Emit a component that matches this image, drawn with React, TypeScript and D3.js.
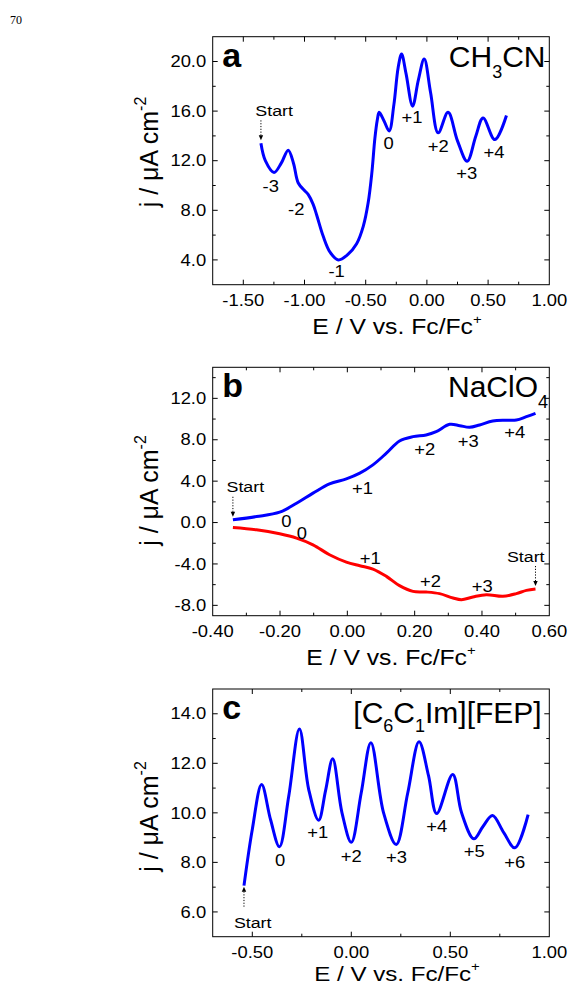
import React from "react";
import * as d3 from "d3";

// ---- Panel a: CH3CN ----
const aE = [-1.356, -1.32, -1.249, -1.19, -1.133, -1.09, -1.051, -1.0, -0.969, -0.93, -0.9, -0.847, -0.79, -0.724, -0.65, -0.574, -0.52, -0.48, -0.45, -0.425, -0.405, -0.39, -0.35, -0.308, -0.27, -0.235, -0.207, -0.17, -0.117, -0.07, -0.022, 0.03, 0.092, 0.173, 0.25, 0.329, 0.4, 0.459, 0.555, 0.65];
const aJ = [13.4, 12.0, 11.05, 11.8, 12.85, 11.8, 10.2, 9.6, 9.26, 8.5, 7.6, 5.9, 4.6, 4.0, 4.4, 5.3, 6.7, 8.6, 11.0, 13.8, 15.3, 15.9, 15.2, 14.4, 16.5, 19.5, 20.6, 19.0, 16.4, 18.5, 20.2, 17.5, 14.25, 15.9, 13.6, 11.95, 14.0, 15.45, 13.7, 15.65];
const aXTicks = [-1.5, -1.0, -0.5, 0.0, 0.5, 1.0];
const aYTicks = [4, 8, 12, 16, 20];
const aLabels = [
  { t: "-3", E: -1.2755, j: 9.48 },
  { t: "-2", E: -1.068, j: 7.64 },
  { t: "-1", E: -0.738, j: 2.65 },
  { t: "0", E: -0.313, j: 12.96 },
  { t: "+1", E: -0.121, j: 15.06 },
  { t: "+2", E: 0.092, j: 12.76 },
  { t: "+3", E: 0.326, j: 10.55 },
  { t: "+4", E: 0.548, j: 12.23 },
];

// ---- Panel b: NaClO4 ----
const bOxE = [-0.34, -0.27, -0.201, -0.151, -0.102, -0.053, -0.003, 0.037, 0.076, 0.116, 0.155, 0.195, 0.234, 0.264, 0.304, 0.334, 0.363, 0.393, 0.432, 0.472, 0.502, 0.532, 0.559];
const bOxJ = [0.27, 0.58, 1.0, 1.87, 2.84, 3.74, 4.22, 4.77, 5.57, 6.7, 7.88, 8.3, 8.46, 8.78, 9.49, 9.36, 9.2, 9.43, 9.81, 9.88, 9.9, 10.23, 10.55];
const bRedE = [-0.34, -0.27, -0.201, -0.151, -0.102, -0.053, -0.003, 0.037, 0.076, 0.116, 0.155, 0.195, 0.234, 0.274, 0.314, 0.339, 0.373, 0.413, 0.462, 0.502, 0.532, 0.559];
const bRedJ = [-0.48, -0.7, -1.09, -1.5, -2.15, -3.11, -3.82, -4.17, -4.49, -5.2, -6.1, -6.65, -6.71, -6.87, -7.29, -7.45, -7.19, -6.97, -7.13, -6.87, -6.55, -6.42];
const bXTicks = [-0.4, -0.2, 0.0, 0.2, 0.4, 0.6];
const bYTicks = [-8, -4, 0, 4, 8, 12];
const bLabels = [
  { t: "0", E: -0.181, j: -0.38 },
  { t: "0", E: -0.135, j: -1.5 },
  { t: "+1", E: 0.045, j: 2.77 },
  { t: "+1", E: 0.068, j: -3.98 },
  { t: "+2", E: 0.23, j: 6.53 },
  { t: "+2", E: 0.247, j: -6.17 },
  { t: "+3", E: 0.359, j: 7.33 },
  { t: "+3", E: 0.401, j: -6.65 },
  { t: "+4", E: 0.497, j: 8.24 },
];

// ---- Panel c: [C6C1Im][FEP] ----
const cE = [-0.542, -0.5, -0.453, -0.408, -0.363, -0.316, -0.262, -0.215, -0.165, -0.13, -0.094, -0.047, 0.0, 0.05, 0.099, 0.163, 0.227, 0.285, 0.342, 0.39, 0.431, 0.512, 0.557, 0.619, 0.665, 0.713, 0.77, 0.826, 0.893];
const cJ = [7.06, 9.33, 11.14, 9.73, 8.63, 10.67, 13.39, 10.94, 9.7, 10.9, 12.18, 10.0, 8.81, 10.8, 12.83, 10.0, 8.72, 10.8, 12.87, 11.5, 9.97, 11.55, 10.0, 8.95, 9.45, 9.89, 9.2, 8.59, 9.93];
const cXTicks = [-0.5, 0.0, 0.5, 1.0];
const cYTicks = [6, 8, 10, 12, 14];
const cLabels = [
  { t: "0", E: -0.36, j: 7.87 },
  { t: "+1", E: -0.17, j: 8.99 },
  { t: "+2", E: 0.0, j: 8.04 },
  { t: "+3", E: 0.228, j: 7.98 },
  { t: "+4", E: 0.4315, j: 9.26 },
  { t: "+5", E: 0.621, j: 8.25 },
  { t: "+6", E: 0.826, j: 7.78 },
];

const FONT = "'Liberation Sans', Arial, Helvetica, sans-serif";
const SX = 1.15;
const BLUE = "#0000ff";
const RED = "#ff0000";
const LEFT = 212.7;
const RIGHT = 549.3;

function zip(xs: number[], ys: number[]): [number, number][] {
  return xs.map((x, i) => [x, ys[i]]);
}

function T(props: {
  x: number;
  y: number;
  size: number;
  anchor?: string;
  weight?: string;
  sx?: number;
  children: React.ReactNode;
}) {
  const { x, y, size, anchor = "middle", weight = "normal", sx = SX, children } = props;
  return (
    <text
      transform={`translate(${x},${y}) scale(${sx},1)`}
      fontSize={size}
      fontFamily={FONT}
      fontWeight={weight}
      textAnchor={anchor}
      fill="#000"
    >
      {children}
    </text>
  );
}

type Series = { E: number[]; J: number[]; color: string };
type Lab = { t: string; E: number; j: number };
type Arrow = { E: number; j: number; dir: "down" | "up"; label: { E: number; j: number } };

function StartArrow({ x, tip, dir }: { x: number; tip: number; dir: "down" | "up" }) {
  const len = 20;
  const s = dir === "down" ? -1 : 1;
  const tail = tip + s * len;
  const base = tip + s * 5;
  return (
    <g>
      <line x1={x} y1={tail} x2={x} y2={base} stroke="#000" strokeWidth={1} strokeDasharray="1.2,1.6" />
      <path d={`M${x},${tip} L${x - 2.2},${base} L${x + 2.2},${base} Z`} fill="#000" />
    </g>
  );
}

function Panel(props: {
  top: number;
  bottom: number;
  xDomain: [number, number];
  yDomain: [number, number];
  xTicks: number[];
  yTicks: number[];
  xMinorStep: number;
  yMinorStep: number;
  series: Series[];
  labels: Lab[];
  arrows: Arrow[];
  letter: string;
  title: React.ReactNode;
  xTitleX: number;
  xTitleDy?: number;
  xTitleSize?: number;
  yTitleY: number;
}) {
  const { top, bottom, xDomain, yDomain, xTicks, yTicks, xMinorStep, yMinorStep } = props;
  const x = d3.scaleLinear().domain(xDomain).range([LEFT, RIGHT]);
  const y = d3.scaleLinear().domain(yDomain).range([bottom, top]);
  const line = d3
    .line<[number, number]>()
    .x((d) => x(d[0]))
    .y((d) => y(d[1]))
    .curve(d3.curveCatmullRom.alpha(0.5));

  const eps = 1e-6;
  const xMinor = d3
    .range(xTicks[0] - xMinorStep, xDomain[1] + eps, xMinorStep)
    .filter((v) => v > xDomain[0] + eps && v < xDomain[1] - eps);
  const yMinor = d3
    .range(yTicks[0] - yMinorStep, yDomain[1] + eps, yMinorStep)
    .filter((v) => v > yDomain[0] + eps && v < yDomain[1] - eps);
  const isMajor = (arr: number[], v: number) => arr.some((m) => Math.abs(m - v) < 1e-6);

  const MAJ = 5;
  const MIN = 3;

  return (
    <g>
      {/* curves */}
      {props.series.map((s, i) => (
        <path key={i} d={line(zip(s.E, s.J)) || ""} fill="none" stroke={s.color} strokeWidth={3} />
      ))}

      {/* frame */}
      <rect x={LEFT} y={top} width={RIGHT - LEFT} height={bottom - top} fill="none" stroke="#000" strokeWidth={1} />

      {/* x ticks, bottom and top, pointing inward */}
      {xMinor.map((v, i) => {
        const len = isMajor(xTicks, v) ? MAJ : MIN;
        return (
          <g key={`xt${i}`} stroke="#000" strokeWidth={1}>
            <line x1={x(v)} x2={x(v)} y1={bottom} y2={bottom - len} />
            <line x1={x(v)} x2={x(v)} y1={top} y2={top + len} />
          </g>
        );
      })}
      {/* y ticks, left and right, pointing inward */}
      {yMinor.map((v, i) => {
        const len = isMajor(yTicks, v) ? MAJ : MIN;
        return (
          <g key={`yt${i}`} stroke="#000" strokeWidth={1}>
            <line x1={LEFT} x2={LEFT + len} y1={y(v)} y2={y(v)} />
            <line x1={RIGHT} x2={RIGHT - len} y1={y(v)} y2={y(v)} />
          </g>
        );
      })}

      {/* tick labels */}
      {xTicks.map((v, i) => (
        <T key={`xl${i}`} x={x(v)} y={bottom + 21} size={16}>
          {v.toFixed(2)}
        </T>
      ))}
      {yTicks.map((v, i) => (
        <T key={`yl${i}`} x={LEFT - 6.5} y={y(v) + 5.7} size={16} anchor="end">
          {v.toFixed(1)}
        </T>
      ))}

      {/* peak labels */}
      {props.labels.map((l, i) => (
        <T key={`pl${i}`} x={x(l.E)} y={y(l.j) + 0.5} size={16}>
          {l.t}
        </T>
      ))}

      {/* start markers */}
      {props.arrows.map((a, i) => (
        <g key={`ar${i}`}>
          <StartArrow x={x(a.E)} tip={y(a.j) + (a.dir === "down" ? -3 : 1)} dir={a.dir} />
          <T x={x(a.label.E)} y={y(a.label.j)} size={15.5}>
            Start
          </T>
        </g>
      ))}

      {/* panel letter */}
      <text x={LEFT + 9.5} y={top + 30} fontSize={34} fontWeight="bold" fontFamily={FONT}>
        {props.letter}
      </text>
      {props.title}

      {/* axis titles */}
      <T x={props.xTitleX} y={bottom + 49.5 + (props.xTitleDy || 0)} size={props.xTitleSize || 21.5}>
        E / V vs. Fc/Fc
        <tspan dy={-10} fontSize={13}>
          +
        </tspan>
      </T>
      <text
        transform={`translate(158,${props.yTitleY}) rotate(-90)`}
        fontSize={25}
        fontFamily={FONT}
        textAnchor="middle"
      >
        j / μA cm
        <tspan dy={-12} fontSize={16}>
          -2
        </tspan>
      </text>
    </g>
  );
}

export default function App() {
  return (
    <svg
      width={569}
      height={986}
      viewBox="0 0 569 986"
      style={{ position: "absolute", left: 0, top: 0, background: "#fff" }}
    >
      <rect width={569} height={986} fill="#fff" />
      <text x={10} y={24} fontSize={12} fontFamily="'Liberation Serif', 'Times New Roman', serif">
        70
      </text>

      <Panel
        top={36.7}
        bottom={284.7}
        xDomain={[-1.75, 1.0]}
        yDomain={[2, 22]}
        xTicks={aXTicks}
        yTicks={aYTicks}
        xMinorStep={0.25}
        yMinorStep={2}
        series={[{ E: aE, J: aJ, color: BLUE }]}
        labels={aLabels}
        arrows={[{ E: aE[0], j: aJ[0], dir: "down", label: { E: -1.248, j: 15.6 } }]}
        letter="a"
        title={
          <text x={545.5} y={67} fontSize={30} fontFamily={FONT} textAnchor="end">
            CH
            <tspan dy={11} fontSize={18}>
              3
            </tspan>
            <tspan dy={-11}>CN</tspan>
          </text>
        }
        xTitleX={397}
        yTitleY={152}
      />

      <Panel
        top={367.3}
        bottom={615.7}
        xDomain={[-0.4, 0.6]}
        yDomain={[-9, 15]}
        xTicks={bXTicks}
        yTicks={bYTicks}
        xMinorStep={0.1}
        yMinorStep={2}
        series={[
          { E: bOxE, J: bOxJ, color: BLUE },
          { E: bRedE, J: bRedJ, color: RED },
        ]}
        labels={bLabels}
        arrows={[
          { E: bOxE[0], j: bOxJ[0], dir: "down", label: { E: -0.303, j: 2.99 } },
          { E: bRedE[bRedE.length - 1], j: bRedJ[bRedJ.length - 1], dir: "down", label: { E: 0.53, j: -3.79 } },
        ]}
        letter="b"
        title={
          <text x={548} y={397.3} fontSize={30} fontFamily={FONT} textAnchor="end">
            NaClO
            <tspan dy={11} fontSize={18}>
              4
            </tspan>
          </text>
        }
        xTitleX={391}
        yTitleY={490.5}
      />

      <Panel
        top={689}
        bottom={936.7}
        xDomain={[-0.7, 1.0]}
        yDomain={[5, 15]}
        xTicks={cXTicks}
        yTicks={cYTicks}
        xMinorStep={0.25}
        yMinorStep={1}
        series={[{ E: cE, J: cJ, color: BLUE }]}
        labels={cLabels}
        arrows={[{ E: cE[0], j: cJ[0], dir: "up", label: { E: -0.498, j: 5.37 } }]}
        letter="c"
        title={
          <text x={541.7} y={723.3} fontSize={30} fontFamily={FONT} textAnchor="end">
            [C
            <tspan dy={8.4} fontSize={18}>
              6
            </tspan>
            <tspan dy={-8.4}>C</tspan>
            <tspan dy={8.4} fontSize={18}>
              1
            </tspan>
            <tspan dy={-8.4}>Im][FEP]</tspan>
          </text>
        }
        xTitleX={397}
        xTitleDy={-5.5}
        xTitleSize={21}
        yTitleY={816.5}
      />
    </svg>
  );
}
